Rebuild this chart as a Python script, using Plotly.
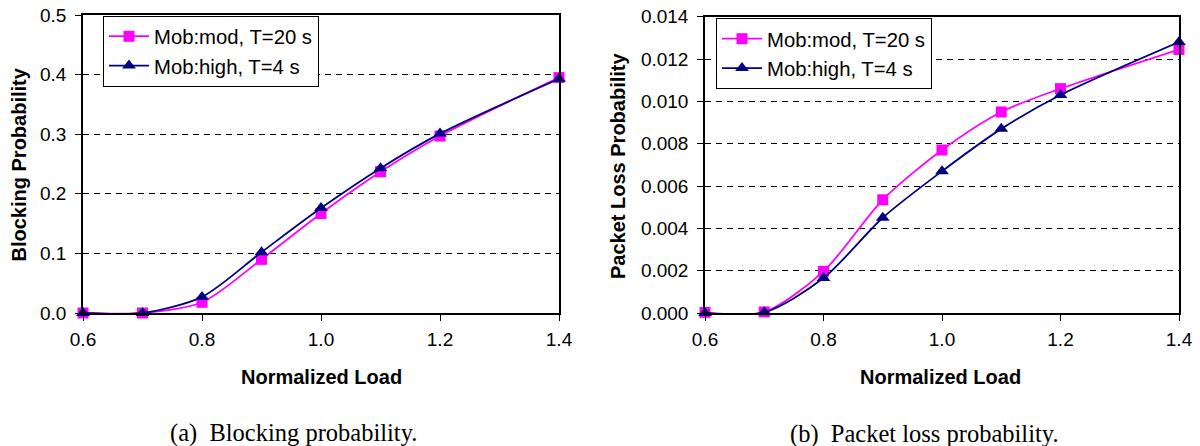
import plotly.graph_objects as go

load = [0.6, 0.7, 0.8, 0.9, 1.0, 1.1, 1.2, 1.4]
block_mod = [0.0, 0.0, 0.018, 0.090, 0.167, 0.237, 0.297, 0.395]
block_high = [0.0, 0.0, 0.027, 0.102, 0.176, 0.243, 0.301, 0.393]
loss_mod = [0.00003, 0.00005, 0.00197, 0.00535, 0.0077, 0.0095, 0.0106, 0.01245]
loss_high = [0.0, 0.00003, 0.00165, 0.0045, 0.0067, 0.0087, 0.0103, 0.0128]

name_mod = "Mob:mod, T=20 s"
name_high = "Mob:high, T=4 s"
c_mod = "#FF00FF"
c_high = "#000080"

W, H = 1200, 446
def px(x): return x / W
def py(y): return 1 - y / H

fig = go.Figure()
for (ys, name, col, sym, sz, xa, ya, leg) in [
    (block_mod, name_mod, c_mod, "square", 11, "x", "y", "legend"),
    (block_high, name_high, c_high, "triangle-up", 12, "x", "y", "legend"),
    (loss_mod, name_mod, c_mod, "square", 11, "x2", "y2", "legend2"),
    (loss_high, name_high, c_high, "triangle-up", 12, "x2", "y2", "legend2"),
]:
    fig.add_trace(go.Scatter(
        x=load, y=ys, name=name, mode="lines+markers",
        line=dict(color=col, width=1.8, shape="spline", smoothing=0.8),
        marker=dict(symbol=sym, size=sz, color=col),
        xaxis=xa, yaxis=ya, legend=leg, cliponaxis=False))

tickfont = dict(family="Liberation Sans, Arial", size=19, color="black")
common_x = dict(range=[0.6, 1.4], tickvals=[0.6, 0.8, 1.0, 1.2, 1.4], tickformat=".1f",
                showline=True, linecolor="black", linewidth=1.5, mirror=True,
                ticks="outside", ticklen=6, tickcolor="black", showgrid=False,
                zeroline=False, tickfont=tickfont, automargin=False,
                ticklabelstandoff=2, ticklabeloverflow="allow")
common_y = dict(showline=True, linecolor="black", linewidth=1.5, mirror=True,
                ticks="outside", ticklen=6, tickcolor="black", showgrid=True,
                gridcolor="black", gridwidth=1, griddash="6px,5px", zeroline=False,
                tickfont=tickfont, automargin=False, ticklabelstandoff=5,
                ticklabeloverflow="allow")

legfont = dict(family="Liberation Sans, Arial", size=20.3, color="black")
fig.update_layout(
    width=W, height=H, margin=dict(l=0, r=0, t=0, b=0, autoexpand=False),
    paper_bgcolor="white", plot_bgcolor="white", showlegend=True,
    xaxis=dict(domain=[px(83), px(559)], anchor="y", **common_x),
    yaxis=dict(domain=[py(313), py(15)], anchor="x", range=[0, 0.5],
               tickvals=[0, 0.1, 0.2, 0.3, 0.4, 0.5], tickformat=".1f", **common_y),
    xaxis2=dict(domain=[px(705), px(1179)], anchor="y2", **common_x),
    yaxis2=dict(domain=[py(313), py(16.7)], anchor="x2", range=[0, 0.014],
                tickvals=[0, 0.002, 0.004, 0.006, 0.008, 0.010, 0.012, 0.014],
                tickformat=".3f", **common_y),
    legend=dict(x=px(103), y=py(15.5), xanchor="left", yanchor="top",
                bgcolor="white", bordercolor="black", borderwidth=1,
                font=legfont, tracegroupgap=0, itemwidth=40),
    legend2=dict(x=px(716), y=py(18), xanchor="left", yanchor="top",
                 bgcolor="white", bordercolor="black", borderwidth=1,
                 font=legfont, tracegroupgap=0, itemwidth=40),
)

titlefont = dict(family="Liberation Sans, Arial", size=20, color="black")
capfont = dict(family="Liberation Serif, Times New Roman", size=24.5, color="black")
ann = [
    dict(text="<b>Normalized Load</b>", x=px(321), y=py(377), font=titlefont, textangle=0),
    dict(text="<b>Normalized Load</b>", x=px(940), y=py(377), font=titlefont, textangle=0),
    dict(text="<b>Blocking Probability</b>", x=px(18.5), y=py(165), font=titlefont, textangle=-90),
    dict(text="<b>Packet Loss Probability</b>", x=px(618), y=py(166), font=titlefont, textangle=-90),
    dict(text="(a)&nbsp;&nbsp;Blocking probability.", x=px(293), y=py(433), font=capfont, textangle=0),
    dict(text="(b)&nbsp;&nbsp;Packet loss probability.", x=px(924), y=py(434), font=capfont, textangle=0),
]
for a in ann:
    fig.add_annotation(xref="paper", yref="paper", showarrow=False,
                       xanchor="center", yanchor="middle", **a)

fig.write_html("out.html", config={"displayModeBar": False},
               post_script="document.body.style.margin='0';document.body.style.overflow='hidden';")
